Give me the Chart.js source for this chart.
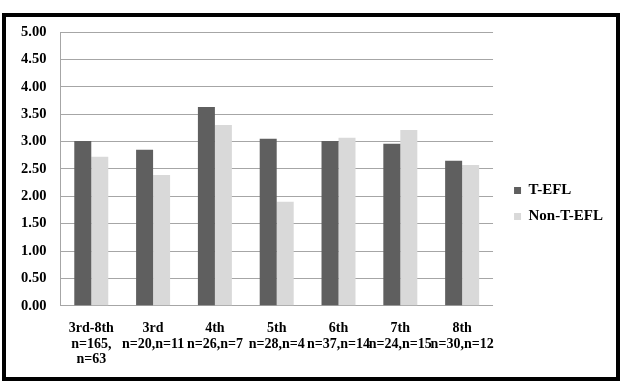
<!DOCTYPE html>
<html lang="en">
  <head>
    <meta charset="UTF-8" />
    <title>T-EFL vs Non-T-EFL</title>
    <style>
      html, body { margin: 0; padding: 0; background: #fff; }
      #box {
        position: absolute; left: 2px; top: 13px;
        width: 618px; height: 368px;
        border: 4px solid #000; box-sizing: border-box;
      }
      #box canvas { display: block; }
    </style>
  </head>
  <body>
    <div id="box"><canvas id="myChart" width="610" height="360"></canvas></div>

    <script src="https://cdn.jsdelivr.net/npm/chart.js"></script>
    <script>
      const categories = [
        ['3rd-8th', 'n=165,', 'n=63'],
        ['3rd', 'n=20,n=11'],
        ['4th', 'n=26,n=7'],
        ['5th', 'n=28,n=4'],
        ['6th', 'n=37,n=14'],
        ['7th', 'n=24,n=15'],
        ['8th', 'n=30,n=12']
      ];
      const tEfl = [3.01, 2.85, 3.63, 3.05, 3.01, 2.96, 2.65];
      const nonTEfl = [2.72, 2.39, 3.30, 1.90, 3.07, 3.21, 2.57];
      const yTicks = [0, 0.5, 1, 1.5, 2, 2.5, 3, 3.5, 4, 4.5, 5];

      const serif = '"Liberation Serif", "Times New Roman", serif';

      // nudge the legend a bit right and down, like the original
      const legendShift = {
        id: 'legendShift',
        afterLayout(chart) {
          chart.legend.left += 10;
          chart.legend.right += 10;
          chart.legend.top += 8;
          chart.legend.bottom += 8;
        }
      };

      new Chart(document.getElementById('myChart'), {
        type: 'bar',
        data: {
          labels: categories,
          datasets: [
            { label: 'T-EFL', data: tEfl, backgroundColor: '#5f5f5f' },
            { label: 'Non-T-EFL', data: nonTEfl, backgroundColor: '#d9d9d9' }
          ]
        },
        plugins: [legendShift],
        options: {
          responsive: false,
          animation: false,
          categoryPercentage: 0.55,
          barPercentage: 1,
          layout: { padding: { top: 0, left: 1, right: 13, bottom: 3 } },
          plugins: {
            tooltip: { enabled: false },
            legend: {
              position: 'right',
              labels: {
                color: '#000',
                font: { family: serif, weight: 'bold', size: 15 },
                boxWidth: 7,
                boxHeight: 7,
                padding: 11
              }
            }
          },
          scales: {
            x: {
              grid: { display: false },
              border: { display: false },
              ticks: {
                color: '#000',
                font: { family: serif, weight: 'bold', size: 14, lineHeight: 1.1 },
                maxRotation: 0, autoSkip: false, padding: 7
              }
            },
            y: {
              min: 0,
              max: 5,
              afterBuildTicks: axis => { axis.ticks = yTicks.map(v => ({ value: v })); },
              afterFit: axis => { axis.paddingTop = 15; },
              grid: { color: '#a6a6a6', drawTicks: false },
              border: { color: '#a6a6a6' },
              ticks: {
                color: '#000',
                font: { family: serif, weight: 'bold', size: 14.5 },
                padding: 14,
                callback: v => Number(v).toFixed(2)
              }
            }
          }
        }
      });
    </script>
  </body>
</html>
